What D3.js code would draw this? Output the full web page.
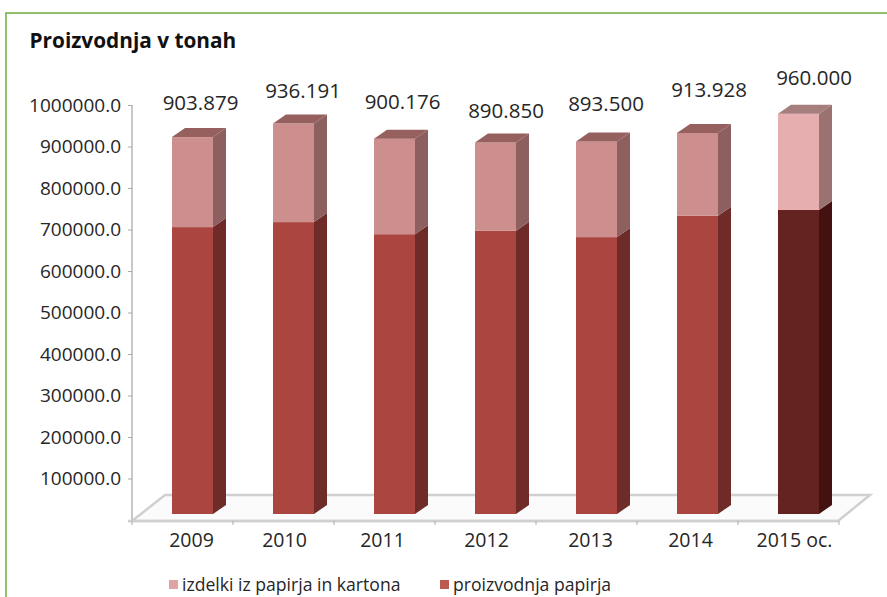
<!DOCTYPE html>
<html>
<head>
<meta charset="utf-8">
<script src="https://cdn.jsdelivr.net/npm/d3@7"></script>
<style>
  html, body { margin: 0; padding: 0; background: #fff; overflow: hidden; }
  text { font-family: "Open Sans", sans-serif; fill: #262626; }
</style>
</head>
<body>
<svg id="chart" width="887" height="597"></svg>
<script>
// Paper output in tonnes per year
const years = ["2009", "2010", "2011", "2012", "2013", "2014", "2015 oc."];
const totals = [903879, 936191, 900176, 890850, 893500, 913928, 960000];
const totalLabels = ["903.879", "936.191", "900.176", "890.850", "893.500", "913.928", "960.000"];
const paperProduction = [688000, 700000, 671000, 679000, 664000, 715000, 729000];
const seriesNames = ["izdelki iz papirja in kartona", "proizvodnja papirja"];
const axisTicks = [100000, 200000, 300000, 400000, 500000, 600000, 700000, 800000, 900000, 1000000];

// Hand placement of the labels, which do not sit on a regular grid
const labelLift = [27, 26, 30, 25, 30, 36, 29];
const labelShift = [0, 1.5, 0, 2.5, 1.5, 3.5, 7.5];
const yearShift = [9, 1, -2, 1, 4, 3, 6];

const svg = d3.select("#chart");
const depthX = 13, depthY = -9, barWidth = 41;

const band = d3.scaleBand().domain(years).range([132, 839]);
const wallY = d3.scaleLinear().domain([0, 1000000]).range([520, 105]);
const frontY = d3.scaleLinear().domain([0, 1000000]).range([514, 97]);
const barX = y => band(y) + 40;

// Page frame
svg.append("path")
  .attr("d", d3.line()([[6, 597], [6, 13], [887, 13]]))
  .attr("fill", "none").attr("stroke", "#6fab3f").attr("stroke-width", 1.5);

svg.append("text").attr("x", 29.5).attr("y", 48)
  .attr("font-size", 20.8).attr("font-weight", 700).style("fill", "#111")
  .text("Proizvodnja v tonah");

// Chart floor
svg.append("path")
  .attr("d", d3.line()([[132, 521], [165, 495], [870, 495], [838, 521]]) + "Z")
  .attr("fill", "#fbfbfb").attr("stroke", "#d0d0d0").attr("stroke-width", 2.5);

// Value axis
const yAxis = svg.append("g").attr("transform", "translate(132,0)")
  .call(d3.axisLeft(wallY).tickValues(axisTicks).tickSize(4).tickPadding(7).tickFormat(d3.format(".1f")));
yAxis.select(".domain").attr("stroke", "#c8c8c8").attr("stroke-width", 2).attr("d", "M0,105V521");
yAxis.selectAll(".tick line").attr("stroke", "#aaa");
yAxis.selectAll("text").attr("font-size", 19).attr("dy", "0.32em").style("fill", "#262626");

// Category axis
const xAxis = svg.append("g").attr("transform", "translate(0,521)")
  .call(d3.axisBottom(band).tickSize(0).tickPadding(12));
xAxis.select(".domain").attr("stroke", "#d0d0d0").attr("stroke-width", 2.5).attr("d", "M128,0H838");
xAxis.selectAll(".tick text").attr("font-size", 19.5).style("fill", "#262626")
  .attr("x", (d, i) => yearShift[i]);
svg.append("g").selectAll("line").data(band.domain().concat("end")).join("line")
  .attr("x1", d => d === "end" ? 839 : band(d)).attr("x2", d => d === "end" ? 839 : band(d))
  .attr("y1", 521).attr("y2", 525).attr("stroke", "#aaa");

// Colours: regular years, then the estimated 2015 bar
const normal = {
  lightFront: "#cd8f8e", lightSide: "#8e5f5f", lightTop: "#96605f",
  darkFront: "#aa4540", darkSide: "#6e2b27"
};
const estimate = {
  lightFront: "#e6aeae", lightSide: "#9a7272", lightTop: "#a67e7d",
  darkFront: "#642220", darkSide: "#431210"
};

function prism(g, x, yBottom, yTop, front, side) {
  g.append("rect").attr("x", x).attr("y", yTop).attr("width", barWidth).attr("height", yBottom - yTop).attr("fill", front);
  g.append("path")
    .attr("d", d3.line()([[x + barWidth, yBottom], [x + barWidth + depthX, yBottom + depthY], [x + barWidth + depthX, yTop + depthY], [x + barWidth, yTop]]) + "Z")
    .attr("fill", side);
}

const bars = svg.append("g").selectAll("g").data(years).join("g");
bars.each(function (year, i) {
  const g = d3.select(this);
  const c = i === years.length - 1 ? estimate : normal;
  const x = barX(year);
  const mid = frontY(paperProduction[i]);
  const top = frontY(totals[i]);
  prism(g, x, frontY(0), mid, c.darkFront, c.darkSide);
  prism(g, x, mid, top, c.lightFront, c.lightSide);
  g.append("path")
    .attr("d", d3.line()([[x, top], [x + depthX, top + depthY], [x + barWidth + depthX, top + depthY], [x + barWidth, top]]) + "Z")
    .attr("fill", c.lightTop);
  g.append("text")
    .attr("x", x + barWidth / 2 + 8 + labelShift[i])
    .attr("y", top - labelLift[i])
    .attr("text-anchor", "middle").attr("font-size", 20.5)
    .text(totalLabels[i]);
});

// Legend
const legendX = [169, 440];
const legendColours = ["#dfa5a5", "#bc5a52"];
const legend = svg.append("g").selectAll("g").data(seriesNames).join("g")
  .attr("transform", (d, i) => `translate(${legendX[i]},580)`);
legend.append("rect").attr("width", 9).attr("height", 9).attr("fill", (d, i) => legendColours[i]);
legend.append("text").attr("x", 13).attr("y", 10.5).attr("font-size", 17.6).text(d => d);
</script>
</body>
</html>
